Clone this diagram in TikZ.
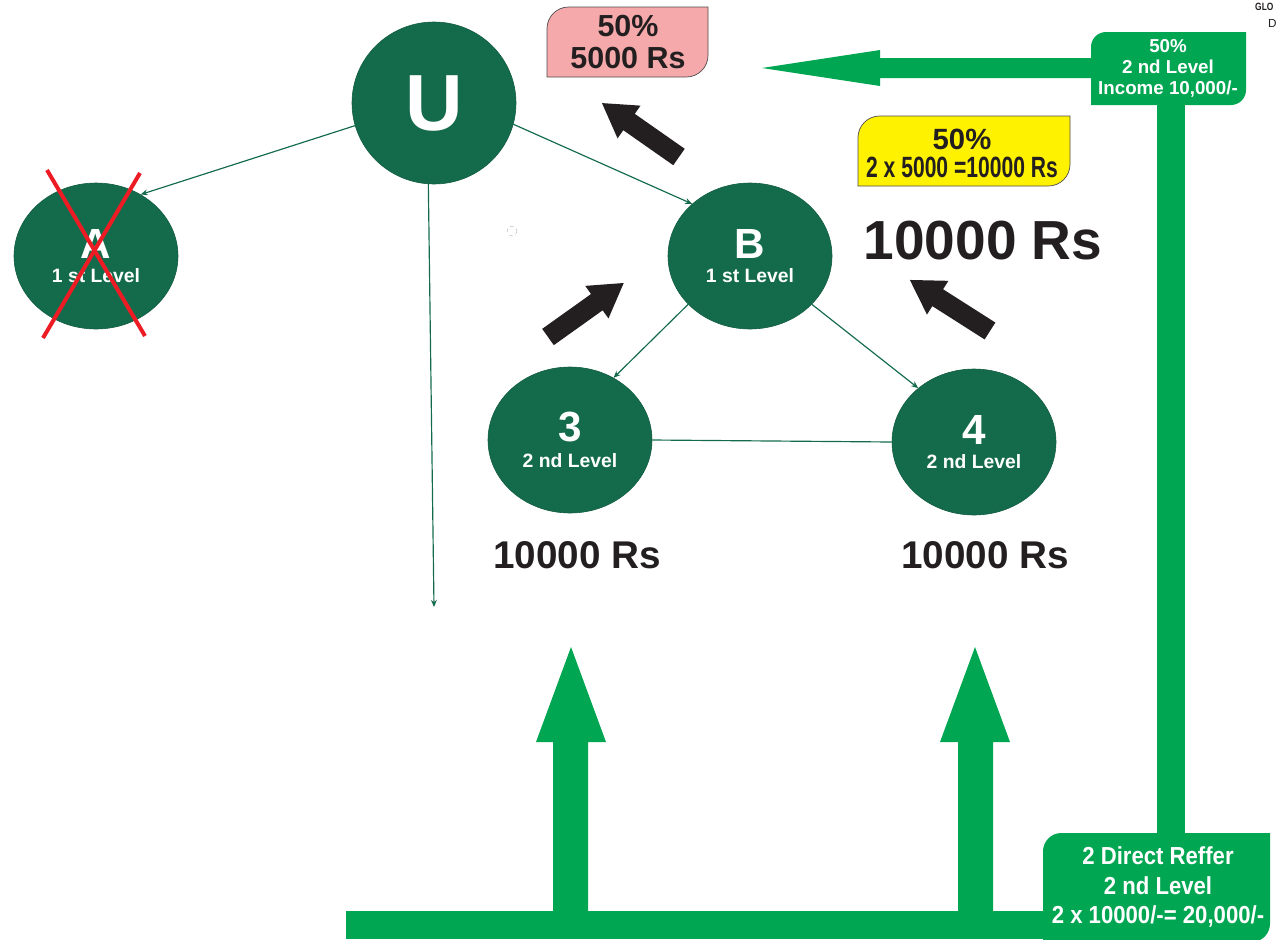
\documentclass[tikz,border=0pt]{standalone}
\usepackage{fontspec}
\usepackage{graphicx}
\setmainfont{Liberation Sans}
\usetikzlibrary{shapes.geometric,arrows.meta}
\definecolor{nodegreen}{HTML}{146B4C}
\definecolor{brightgreen}{HTML}{00A651}
\definecolor{pinkbox}{HTML}{F6A9AB}
\definecolor{yellowbox}{HTML}{FFF200}
\definecolor{crossred}{HTML}{ED1C24}
\definecolor{ink}{HTML}{231F20}
\newcommand\fatarrow[4]{%
  \begin{scope}[shift={(#1,#2)},rotate=#3]
    \fill[ink] (0,-10) -- (#4-33,-10) -- (#4-33,-20) -- (#4,0) -- (#4-33,20) -- (#4-33,10) -- (0,10) -- cycle;
  \end{scope}}
\begin{document}
\begin{tikzpicture}[x=0.03cm,y=-0.03cm,
  member/.style={ellipse, fill=nodegreen, draw=nodegreen!85!black, line width=0.5pt,
    minimum width=164*0.03cm, minimum height=146*0.03cm, inner sep=0pt,
    text=white, font=\bfseries\fontsize{16.5}{21}\selectfont, align=center},
  link/.style={draw=nodegreen, line width=1pt},
  linkarrow/.style={link, -{Stealth[length=6pt,width=5pt]}},
  boxline/.style={draw=ink!80, line width=0.6pt},
  darktext/.style={text=ink, font=\bfseries, align=center, inner sep=0pt},
  whitetext/.style={text=white, font=\bfseries, align=center, inner sep=0pt}
]
\useasboundingbox (0,0) rectangle (1278,939);
\clip (0,0) rectangle (1278,939);

% ---- green flow arrows ----
\fill[brightgreen] (762,68) -- (880,50) -- (880,58) -- (1110,58) -- (1110,78) -- (880,78) -- (880,86) -- cycle;
\fill[brightgreen] (1157,95) rectangle (1185,845);
\fill[brightgreen] (346,911) rectangle (1060,939);
\fill[brightgreen] (553,915) -- (553,742) -- (536,742) -- (571,647) -- (606,742) -- (588,742) -- (588,915) -- cycle;
\fill[brightgreen] (958,915) -- (958,742) -- (940,742) -- (975,647) -- (1010,742) -- (993,742) -- (993,915) -- cycle;

% ---- green boxes ----
\fill[brightgreen] (1091,68) [rounded corners=0.45cm] -- (1091,32) -- (1170,32) [sharp corners] -- (1246,32) -- (1246,68)
  [rounded corners=0.45cm] -- (1246,105) -- (1170,105) [sharp corners] -- (1091,105) -- cycle;
\node[whitetext, font=\bfseries\fontsize{16}{18}\selectfont] (incomebox) at (1168,68) {50\%\\2 nd Level\\Income 10,000/-};

\fill[brightgreen] (1043,885) [rounded corners=0.55cm] -- (1043,833) -- (1150,833) [sharp corners] -- (1270,833) -- (1270,888)
  [rounded corners=0.55cm] -- (1270,942) -- (1150,942) [sharp corners] -- (1043,942) -- cycle;
\node[whitetext, font=\bfseries\fontsize{21}{25}\selectfont] (refferbox) at (1158,887)
  {\scalebox{0.9}[1]{2 Direct Reffer}\\\scalebox{0.9}[1]{2 nd Level}\\\scalebox{0.9}[1]{2 x 10000/-= 20,000/-}};

% ---- pink and yellow boxes ----
\draw[boxline, fill=pinkbox] (547,42) [rounded corners=0.65cm] -- (547,7) -- (628,7) [sharp corners] -- (708,7) -- (708,42)
  [rounded corners=0.65cm] -- (708,77) -- (628,77) [sharp corners] -- (547,77) -- cycle;
\node[darktext, font=\bfseries\fontsize{26}{27}\selectfont] (pinktext) at (628,42) {50\%\\5000 Rs};

\draw[boxline, fill=yellowbox] (858,151) [rounded corners=0.65cm] -- (858,116) -- (964,116) [sharp corners] -- (1070,116) -- (1070,151)
  [rounded corners=0.65cm] -- (1070,186) -- (964,186) [sharp corners] -- (858,186) -- cycle;
\node[darktext, font=\bfseries\fontsize{25}{24}\selectfont] (yellowtext) at (962,153)
  {50\%\\\scalebox{0.72}[1]{2 x 5000 =10000 Rs}};

% ---- members ----
\node[member, minimum height=162*0.03cm] (U) at (434,103) {\fontsize{68}{68}\selectfont U};
\node[member] (A) at (96,256) {{\fontsize{36}{36}\selectfont A}\\{1 st Level}};
\node[member] (B) at (750,256) {{\fontsize{36}{36}\selectfont B}\\{1 st Level}};
\node[member] (n3) at (570,440) {{\fontsize{36}{36}\selectfont 3}\\[1pt]{2 nd Level}};
\node[member] (n4) at (974,442) {{\fontsize{36}{36}\selectfont 4}\\{2 nd Level}};
\coordinate (downend) at (434,607);

% ---- connectors ----
\draw[linkarrow] (U.196) -- (A.54);
\draw[linkarrow] (U.-15) -- (B.138);
\draw[linkarrow] (U.-94) -- (downend);
\draw[linkarrow] (B.218) -- (n3.55);
\draw[linkarrow] (B.-38) -- (n4.136);
\draw[link] (n3.east) -- (n4.west);

% ---- red cross over A ----
\draw[crossred, line width=3.4pt] (47,170) -- (145,336);
\draw[crossred, line width=3.4pt] (140,173) -- (43,338);

% ---- black arrows ----
\fatarrow{679}{157}{145}{94}
\fatarrow{548}{337}{35.5}{93}
\fatarrow{990}{331}{147.5}{95}

% ---- amounts ----
\node[darktext, font=\bfseries\fontsize{47}{47}\selectfont] (bigamount) at (983,241) {10000 Rs};
\node[darktext, font=\bfseries\fontsize{33}{33}\selectfont] (amount3) at (577,555) {10000 Rs};
\node[darktext, font=\bfseries\fontsize{33}{33}\selectfont] (amount4) at (985,555) {10000 Rs};

% ---- small marker ----
\draw[gray!60, dashed, line width=0.4pt] (512,231) circle[radius=5];

% ---- corner text ----
\node[anchor=base west, inner sep=0pt, text=ink, font=\bfseries\fontsize{9}{9}\selectfont] (glo) at (1255,10) {\scalebox{0.8}[1]{GLO}};
\node[anchor=base west, inner sep=0pt, text=ink, font=\fontsize{10}{10}\selectfont] (dcut) at (1268,27) {D};
\end{tikzpicture}
\end{document}
